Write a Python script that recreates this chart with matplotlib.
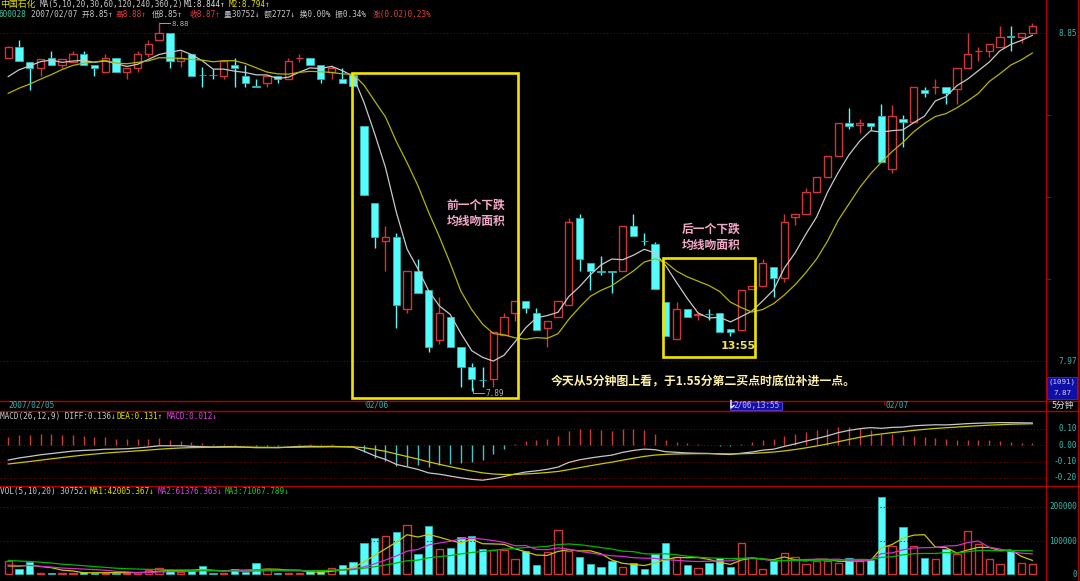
import numpy as np
import pandas as pd
import matplotlib
matplotlib.use("Agg")
import matplotlib.pyplot as plt
from matplotlib.patches import Rectangle

W, H = 1080, 581
CJK = ["Noto Sans CJK SC", "DejaVu Sans"]
MONO = ["DejaVu Sans Mono", "Noto Sans CJK SC"]

# ---- 5-minute bars 600028, 2007/02/05 .. 2007/02/07 -------------------------
opens = [8.784, 8.812, 8.773, 8.755, 8.782, 8.764, 8.773, 8.793, 8.764, 8.745,
         8.782, 8.745, 8.755, 8.794, 8.831, 8.849, 8.775, 8.793, 8.738, 8.738,
         8.735, 8.764, 8.735, 8.707, 8.717, 8.735, 8.726, 8.782, 8.783, 8.764,
         8.745, 8.726, 8.736, 8.601, 8.393, 8.293, 8.303, 8.109, 8.212, 8.160,
         8.026, 8.089, 8.007, 7.953, 7.919, 7.921, 8.040, 8.100, 8.131, 8.098,
         8.058, 8.089, 8.120, 8.353, 8.232, 8.211, 8.211, 8.212, 8.332, 8.292,
         8.283, 8.129, 8.028, 8.109, 8.094, 8.096, 8.098, 8.057, 8.053, 8.162,
         8.171, 8.222, 8.192, 8.356, 8.364, 8.423, 8.463, 8.521, 8.609, 8.602,
         8.609, 8.628, 8.484, 8.619, 8.610, 8.697, 8.705, 8.706, 8.699, 8.755,
         8.801, 8.803, 8.813, 8.841, 8.840, 8.851]
highs = [8.815, 8.831, 8.773, 8.781, 8.803, 8.781, 8.803, 8.803, 8.764, 8.794,
         8.782, 8.755, 8.802, 8.831, 8.880, 8.850, 8.803, 8.793, 8.760, 8.753,
         8.774, 8.782, 8.764, 8.726, 8.735, 8.735, 8.782, 8.794, 8.783, 8.764,
         8.764, 8.755, 8.736, 8.601, 8.393, 8.333, 8.313, 8.211, 8.244, 8.160,
         8.141, 8.089, 8.007, 7.964, 7.953, 8.047, 8.098, 8.131, 8.131, 8.111,
         8.077, 8.131, 8.353, 8.364, 8.232, 8.252, 8.211, 8.332, 8.364, 8.313,
         8.290, 8.129, 8.129, 8.109, 8.102, 8.109, 8.098, 8.057, 8.160, 8.171,
         8.243, 8.222, 8.364, 8.364, 8.433, 8.463, 8.521, 8.609, 8.650, 8.618,
         8.609, 8.659, 8.658, 8.629, 8.706, 8.706, 8.726, 8.706, 8.755, 8.851,
         8.812, 8.820, 8.869, 8.869, 8.849, 8.878]
lows = [8.782, 8.775, 8.697, 8.735, 8.764, 8.755, 8.773, 8.764, 8.735, 8.745,
        8.745, 8.726, 8.746, 8.785, 8.831, 8.755, 8.758, 8.735, 8.706, 8.726,
        8.726, 8.706, 8.706, 8.706, 8.706, 8.717, 8.726, 8.772, 8.764, 8.717,
        8.726, 8.717, 8.708, 8.415, 8.272, 8.212, 8.058, 8.100, 8.152, 7.995,
        8.015, 8.007, 7.899, 7.890, 7.899, 7.899, 8.040, 8.078, 8.098, 8.053,
        8.008, 8.089, 8.120, 8.212, 8.160, 8.201, 8.152, 8.212, 8.305, 8.281,
        8.162, 8.037, 8.028, 8.089, 8.080, 8.080, 8.047, 8.037, 8.053, 8.162,
        8.171, 8.142, 8.181, 8.335, 8.364, 8.423, 8.463, 8.521, 8.592, 8.581,
        8.590, 8.503, 8.474, 8.544, 8.610, 8.677, 8.686, 8.660, 8.660, 8.755,
        8.776, 8.785, 8.813, 8.803, 8.822, 8.851]
closes = [8.812, 8.775, 8.755, 8.781, 8.764, 8.781, 8.793, 8.764, 8.755, 8.782,
          8.745, 8.755, 8.793, 8.820, 8.849, 8.775, 8.782, 8.735, 8.737, 8.737,
          8.774, 8.755, 8.717, 8.706, 8.735, 8.726, 8.774, 8.783, 8.764, 8.726,
          8.755, 8.717, 8.708, 8.415, 8.303, 8.302, 8.120, 8.211, 8.152, 8.007,
          8.098, 8.007, 7.955, 7.921, 7.918, 8.047, 8.087, 8.131, 8.111, 8.053,
          8.077, 8.131, 8.342, 8.244, 8.212, 8.210, 8.210, 8.332, 8.305, 8.291,
          8.162, 8.037, 8.109, 8.089, 8.096, 8.095, 8.047, 8.047, 8.160, 8.171,
          8.232, 8.192, 8.342, 8.364, 8.423, 8.463, 8.521, 8.609, 8.600, 8.609,
          8.600, 8.503, 8.628, 8.610, 8.706, 8.688, 8.706, 8.688, 8.755, 8.794,
          8.802, 8.820, 8.840, 8.840, 8.849, 8.869]
volumes = [39300, 14800, 36400, 3000, 4700, 3000, 3000, 7700, 4700, 4700,
           4700, 3000, 7700, 12700, 17700, 12700, 7700, 10000, 24500, 4700,
           4700, 16600, 7700, 32500, 14800, 3000, 4700, 4700, 9000, 9000,
           17700, 26600, 36400, 93500, 106500, 114200, 125100, 145900, 60000, 142900,
           74900, 77800, 109500, 114200, 75800, 71900, 71900, 44400, 68900, 27500,
           66900, 131000, 69900, 50300, 29600, 22500, 39300, 20700, 32500, 14800,
           60000, 92600, 50300, 27500, 17700, 32500, 47300, 21600, 91700, 47300,
           16600, 39300, 62100, 50300, 30500, 39300, 40300, 32500, 47300, 39300,
           42300, 227800, 84600, 140800, 83700, 49100, 46200, 74900, 60000, 129000,
           88800, 44400, 29600, 68900, 32500, 30752]
# closes / volumes just before the window (where the MA lines start)
pre_close = [8.638, 8.643, 8.649, 8.643, 8.643, 8.684, 8.702, 8.724, 8.743]
pre_vol = [52000, 61000, 48000, 57000, 66000, 50000, 54000, 59000, 47000, 56000,
           33000, 28000, 31000, 26000, 32000, 18000, 24000, 20000, 22000]
# EMA state before the first bar (DIFF / DEA start values on the MACD pane)
ema12_start, ema26_start, dea_start = 8.68, 8.79, -0.121

date_ticks = [("2007/02/05", 8.6), ("02/06", 366), ("02/07", 885.5)]

# ---- derived indicators -----------------------------------------------------
n = len(closes)
idx = np.arange(n)
cl_all = pd.Series(pre_close + closes)
ma5 = cl_all.rolling(5).mean().to_numpy()[len(pre_close):]
ma10 = cl_all.rolling(10).mean().to_numpy()[len(pre_close):]
v_all = pd.Series(pre_vol + volumes)
vma5 = v_all.rolling(5).mean().to_numpy()[len(pre_vol):]
vma10 = v_all.rolling(10).mean().to_numpy()[len(pre_vol):]
vma20 = v_all.rolling(20).mean().to_numpy()[len(pre_vol):]


def ema(vals, k, seed):
    out, prev = [], seed
    for v in vals:
        prev = (2 * v + (k - 1) * prev) / (k + 1)
        out.append(prev)
    return np.array(out)


diff = ema(closes, 12, ema12_start) - ema(closes, 26, ema26_start)
dea = ema(diff, 9, dea_start)
macd = 2 * (diff - dea)

# ---- colours ----------------------------------------------------------------
RED = "#d03838"
CYAN = "#54fcfc"
CYAN_D = "#2fb4b4"
GRID = "#7a0000"
FRAME = "#b00000"
TEAL = "#3cb8b0"
WHITE = "#c8c8c8"
YEL = "#c8c800"
MAG = "#d030d0"
GRN = "#00b800"

fig = plt.figure(figsize=(W / 100, H / 100), dpi=100, facecolor="black")
XL = (-8.2 / 10.78, (1046 - 8.2) / 10.78)


def panel(top, bottom):
    a = fig.add_axes([0, 1 - bottom / H, 1046 / W, (bottom - top) / H])
    a.set_facecolor("black")
    a.set_xlim(*XL)
    a.set_xticks([])
    a.set_yticks([])
    for s in a.spines.values():
        s.set_visible(False)
    return a


# ---- price panel ------------------------------------------------------------
ax = panel(0, 400.5)
ax.set_ylim(8.85 - 367.5 / 372.7, 8.85 + 33 / 372.7)
for lvl in (8.85, 7.97):
    ax.axhline(lvl, color=GRID, lw=0.8, ls=(0, (1, 2)))

o, h, l, c = map(np.array, (opens, highs, lows, closes))
up = c >= o
body_lo = np.minimum(o, c)
body_hi = np.maximum(o, c)
body_h = np.maximum(body_hi - body_lo, 0.0008)
col = np.where(up, RED, CYAN)
ax.vlines(idx, body_hi, h, color=col, lw=1.0, zorder=2)
ax.vlines(idx, l, body_lo, color=col, lw=1.0, zorder=2)
ax.bar(idx[up], body_h[up], 0.68, body_lo[up], facecolor="black",
       edgecolor=RED, lw=1.0, zorder=3)
ax.bar(idx[~up], body_h[~up], 0.68, body_lo[~up], facecolor=CYAN,
       edgecolor=CYAN_D, lw=0.6, zorder=3)
ax.plot(idx, ma5, color=WHITE, lw=0.9, zorder=4)
ax.plot(idx, ma10, color="#b4b400", lw=0.9, zorder=4)

# ---- MACD panel -------------------------------------------------------------
am = panel(410.5, 486)
am.set_ylim(-41 / 165, 34.5 / 165)
for lvl in (0.1, 0.0, -0.1, -0.2):
    am.axhline(lvl, color=GRID, lw=0.8, ls=(0, (1, 2)))
am.vlines(idx, 0, macd, color=np.where(macd >= 0, RED, "#40c8c8"), lw=1.0)
am.plot(idx, diff, color=WHITE, lw=0.9)
am.plot(idx, dea, color=YEL, lw=0.9)

# ---- volume panel -----------------------------------------------------------
av = panel(486, 581)
av.set_ylim(-6.7 / 33.8 * 1e5, 88.3 / 33.8 * 1e5)
for lvl in (200000, 100000):
    av.axhline(lvl, color=GRID, lw=0.8, ls=(0, (1, 2)))
vol = np.array(volumes)
av.bar(idx[up], vol[up], 0.68, facecolor="black", edgecolor=RED, lw=1.0)
av.bar(idx[~up], vol[~up], 0.68, facecolor=CYAN, edgecolor=CYAN_D, lw=0.6)
av.plot(idx, vma5, color=YEL, lw=0.9)
av.plot(idx, vma10, color=MAG, lw=0.9)
av.plot(idx, vma20, color=GRN, lw=0.9)

# ---- overlay in pixel units: frames, labels, notes --------------------------
ov = fig.add_axes([0, 0, 1, 1])
ov.set_xlim(0, W)
ov.set_ylim(H, 0)
ov.axis("off")
ov.patch.set_alpha(0)

for yy in (400.5, 410.5, 486):
    ov.plot([0, W], [yy, yy], color=FRAME, lw=1.0)
ov.plot([1046, 1046], [0, H], color=FRAME, lw=1.0)
ov.plot([1078, 1078], [0, H], color=FRAME, lw=1.0)
for yy in (115, 197, 279):
    ov.plot([1046, 1050], [yy, yy], color=FRAME, lw=0.8)


def txt(x, y, s, color, size=5.6, fam=MONO, **kw):
    ov.text(x, y, s, color=color, fontsize=size, family=fam, va="center", **kw)


# header
txt(0, 4.5, "中国石化", "#e0e000", size=6.4, fam=CJK)
txt(39.7, 4.5, "MA(5,10,20,30,60,120,240,360,2)", WHITE)
txt(183.8, 4.5, "M1:8.844↑", "#e0e0e0")
txt(229, 4.5, "M2:8.794↑", "#e0e000")
txt(-1.5, 14.7, "600028", "#40c8a0")
txt(31, 14.7, "2007/02/07 开8.85↑", WHITE)
txt(115.5, 14.7, "高8.88↑", "#e04040")
txt(151.7, 14.7, "低8.85↑", WHITE)
txt(190, 14.7, "收8.87↑", "#e04040")
txt(224, 14.7, "量30752↓ 额2727↓ 换0.00% 振0.34%", WHITE)
txt(372.4, 14.7, "涨(0.02)0.23%", "#e04040")

txt(0, 416.3, "MACD(26,12,9) DIFF:0.136↓", WHITE)
txt(116.6, 416.3, "DEA:0.131↑", "#e0e000")
txt(166.6, 416.3, "MACD:0.012↓", "#e040e0")
txt(0, 491.7, "VOL(5,10,20) 30752↓", WHITE)
txt(89.7, 491.7, "MA1:42005.367↓", "#e0e000")
txt(157.6, 491.7, "MA2:61376.363↓", "#e040e0")
txt(225, 491.7, "MA3:71067.789↓", "#20d020")

# right axis labels
txt(1077, 33, "8.85", TEAL, ha="right")
txt(1077, 361, "7.97", TEAL, ha="right")
ov.add_patch(Rectangle((1047, 376.5), 30, 22, facecolor="#1010a8",
                       edgecolor="#3030d0", lw=0.6))
txt(1062, 382, "(1091)", "#d0d0e8", size=5.4, ha="center")
txt(1062, 393, "7.87", "#d0d0e8", size=5.4, ha="center")
for lab, yy in (("0.10", 428.3), ("0.00", 445), ("-0.10", 461.7), ("-0.20", 477.7)):
    txt(1077, yy, lab, TEAL, ha="right")
for lab, yy in (("200000", 506.7), ("100000", 541), ("0", 574.3)):
    txt(1077, yy, lab, TEAL, ha="right")

# date bar
for lab, xx in date_ticks:
    txt(xx, 405.5, lab, "#40b0b0")
    if xx > 100:
        ov.plot([xx - 1.5, xx - 1.5], [400.5, 404], color=FRAME, lw=0.8)
ov.add_patch(Rectangle((730, 401.5), 52, 8.5, facecolor="#1010a8",
                       edgecolor="#5050ff", lw=0.6))
txt(733, 405.5, "2/06,13:55", "#c0c0ff")
ov.plot([731, 731, 734], [400.5, 408, 405.5], color="white", lw=1.0)
txt(1063, 405.5, "5分钟", "#d0e8e8", size=6.4, fam=CJK, ha="center")

# high / low markers
ov.plot([159.5, 170], [22.5, 22.5], color="#a0a0a0", lw=0.7)
txt(171, 23.6, "8.88", "#b0b0b0", size=5.2)
ov.plot([473, 473, 484], [388, 393, 393], color="#a0a0a0", lw=0.7)
txt(485, 393.5, "7.89", "#b0b0b0")

# annotation boxes and notes
ov.add_patch(Rectangle((351.7, 72.7), 166.6, 325.6, fill=False,
                       edgecolor="#f0e400", lw=1.9))
ov.add_patch(Rectangle((663.3, 257.7), 91.7, 99.6, fill=False,
                       edgecolor="#f0e400", lw=1.9))
PINK = "#f4a8c8"
ov.text(476, 213, "前一个下跌\n均线吻面积", color=PINK, fontsize=8.5,
        family=CJK, weight="bold", ha="center", va="center", linespacing=1.35)
ov.text(711, 237.5, "后一个下跌\n均线吻面积", color=PINK, fontsize=8.5,
        family=CJK, weight="bold", ha="center", va="center", linespacing=1.35)
ov.text(738, 346, "13:55", color="#f0e060", fontsize=8, family="DejaVu Sans",
        weight="bold", ha="center", va="center")
ov.text(703, 381, "今天从5分钟图上看，于1.55分第二买点时底位补进一点。",
        color="#fff0a8", fontsize=8.6, family=CJK, weight="bold",
        ha="center", va="center")

fig.savefig("out.png", dpi=100, facecolor="black")
